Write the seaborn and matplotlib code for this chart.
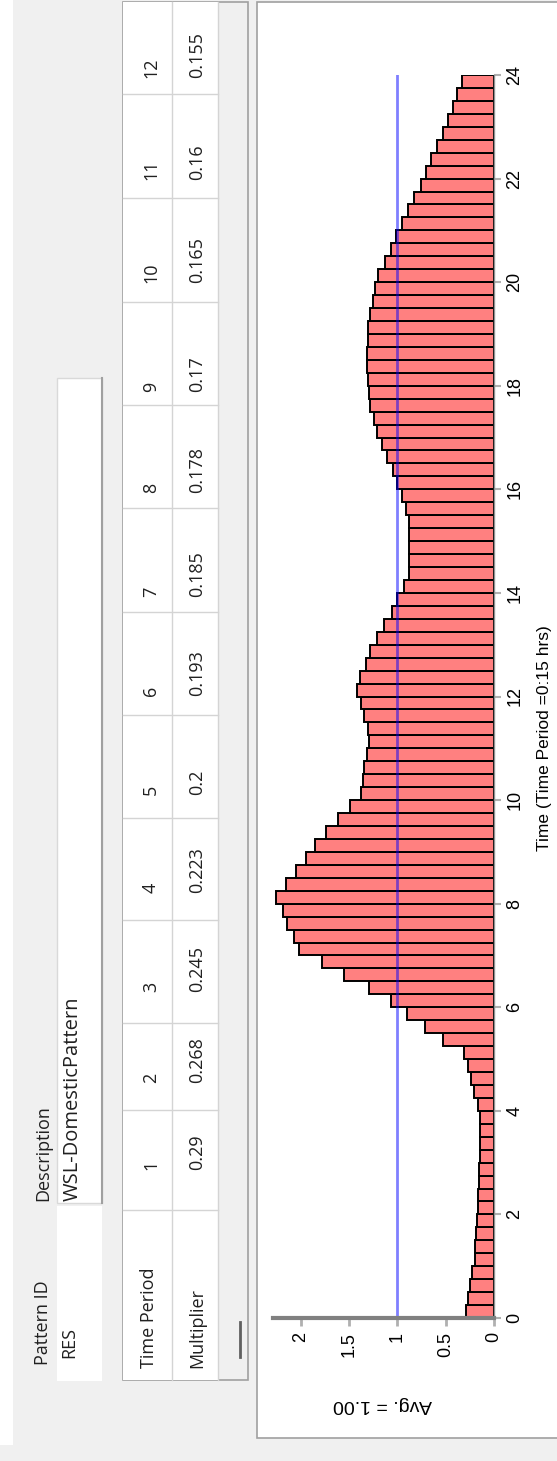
import matplotlib
matplotlib.use('Agg')
import matplotlib.pyplot as plt
import seaborn as sns
import pandas as pd
from matplotlib.patches import Rectangle

# Multiplier for each 15-minute time period (96 periods = 24 hrs)
multipliers = [0.29, 0.268, 0.245, 0.223, 0.2, 0.193, 0.185, 0.178, 0.17, 0.165, 0.16, 0.155,
               0.15, 0.148, 0.147, 0.147, 0.17, 0.21, 0.24, 0.27, 0.31, 0.53, 0.71, 0.90,
               1.07, 1.30, 1.55, 1.78, 2.02, 2.07, 2.14, 2.19, 2.26, 2.16, 2.05, 1.95,
               1.85, 1.74, 1.62, 1.49, 1.38, 1.36, 1.35, 1.32, 1.30, 1.31, 1.35, 1.38,
               1.42, 1.39, 1.33, 1.28, 1.21, 1.14, 1.06, 1.00, 0.93, 0.88, 0.88, 0.88,
               0.88, 0.88, 0.91, 0.95, 1.00, 1.05, 1.11, 1.16, 1.21, 1.24, 1.28, 1.30,
               1.31, 1.32, 1.32, 1.31, 1.31, 1.29, 1.25, 1.23, 1.20, 1.13, 1.07, 1.02,
               0.95, 0.89, 0.83, 0.76, 0.70, 0.65, 0.59, 0.53, 0.48, 0.43, 0.385, 0.33]
period_hrs = 0.25
table_periods = list(range(1, 13))
table_values = ['0.29', '0.268', '0.245', '0.223', '0.2', '0.193',
                '0.185', '0.178', '0.17', '0.165', '0.16', '0.155']
time_ticks = list(range(0, 25, 2))
mult_ticks = [0, 0.5, 1, 1.5, 2]
avg_value = 1.0

pattern_id = 'RES'
description = 'WSL-DomesticPattern'

df = pd.DataFrame({
    'time': [i * period_hrs + period_hrs / 2 for i in range(len(multipliers))],
    'mult': multipliers,
})

W, H = 557, 1461
fig = plt.figure(figsize=(W / 100, H / 100), dpi=100)
fig.patch.set_facecolor('#f0f0f0')

# background "dialog" drawn in pixel coordinates (whole screenshot is turned on its side)
bg = fig.add_axes([0, 0, 1, 1])
bg.set_xlim(0, W)
bg.set_ylim(H, 0)
bg.axis('off')

ui_font = ['Open Sans', 'DejaVu Sans']
ui_size = 13
txt = dict(rotation=90, ha='center', va='bottom', fontsize=ui_size, family=ui_font, color='#202020')

bg.add_patch(Rectangle((0, 0), 13, 1445, fc='white', ec='none'))
# pattern id / description fields
bg.add_patch(Rectangle((57, 378), 45, 825, fc='white', ec='#d9d9d9', lw=1))
bg.plot([102, 102], [378, 1203], color='#a0a0a0', lw=1.5)
bg.add_patch(Rectangle((57, 1206), 45, 175, fc='white', ec='none'))
bg.text(43, 1365, 'Pattern ID', **txt)
bg.text(43, 1201, 'Description', **txt)
bg.text(69, 1358, pattern_id, **txt)
bg.text(73, 1201, description, **{**txt, 'fontsize': 14.5})

# table grid
bg.add_patch(Rectangle((123, 2), 125, 1378, fc='#f0f0f0', ec='#a0a0a0', lw=1.2))
bg.add_patch(Rectangle((123, 2), 95, 1378, fc='white', ec='none'))
bg.plot([172, 172], [2, 1380], color='#d4d4d4', lw=1)
bg.plot([218, 218], [2, 1380], color='#d4d4d4', lw=1)
cell_bottoms = [1210, 1110, 1023, 920, 818, 715, 612, 508, 405, 302, 198, 94]
for yb in cell_bottoms:
    bg.plot([123, 218], [yb, yb], color='#d4d4d4', lw=1)
bg.text(149, 1368, 'Time Period', **txt)
bg.text(197, 1368, 'Multiplier', **txt)
text_bottoms = [1170, 1083, 992, 893, 795, 696, 597, 493, 392, 283, 180, 78]
for p, v, yb in zip(table_periods, table_values, text_bottoms):
    bg.text(151, yb, str(p), **txt)
    bg.text(197, yb, v, **txt)
bg.plot([240, 240], [1322, 1357], color='#606060', lw=2)

# chart panel
bg.add_patch(Rectangle((257, 2), 320, 1436, fc='white', ec='#a0a0a0', lw=1.2))

# chart axes: time runs upward, multiplier runs to the left
x0, x1 = 273, 494
y_top, y_bot = 75, 1318
ax = fig.add_axes([x0 / W, (H - y_bot) / H, (x1 - x0) / W, (y_bot - y_top) / H])
ax.patch.set_alpha(0)
sns.barplot(data=df, x='mult', y='time', orient='h', native_scale=True, width=1,
            color='#ff8080', saturation=1, edgecolor='black', linewidth=1.4, ax=ax)
ax.axvline(avg_value, color='blue', alpha=0.5, lw=2)
ax.set_xlim(2.29, 0)
ax.set_ylim(0, 24)

for s in ['left', 'top']:
    ax.spines[s].set_visible(False)
ax.spines['bottom'].set_color('#808080')
ax.spines['bottom'].set_linewidth(3)
ax.spines['right'].set_color('#909090')
ax.spines['right'].set_linewidth(1)

chart_font = ['Liberation Sans', 'DejaVu Sans']
ax.set_xticks(mult_ticks)
ax.set_xticklabels([f'{t:g}' for t in mult_ticks], rotation=90, ha='center', va='top',
                   fontsize=13, family=chart_font)
ax.yaxis.tick_right()
ax.set_yticks(time_ticks)
ax.set_yticklabels([str(t) for t in time_ticks], rotation=90, va='center', ha='left',
                   fontsize=13, family=chart_font)
ax.tick_params(axis='x', length=6, width=2, color='#b0b0b0', pad=4)
ax.tick_params(axis='y', length=5, width=1.5, color='#b0b0b0', pad=4)
ax.set_xlabel('')
ax.set_ylabel('Time (Time Period =0:15 hrs)', rotation=90, fontsize=12.5, family=chart_font)
ax.yaxis.set_label_position('right')
ax.yaxis.set_label_coords((545 - x0) / (x1 - x0), (y_bot - 738) / (y_bot - y_top))
ax.yaxis.label.set_ha('center')
ax.yaxis.label.set_va('center')

bg.text(382, 1405, f'Avg. = {avg_value:.2f}', rotation=180, ha='center', va='center',
        fontsize=14, family=chart_font, color='black')

fig.savefig('out.png', dpi=100)
